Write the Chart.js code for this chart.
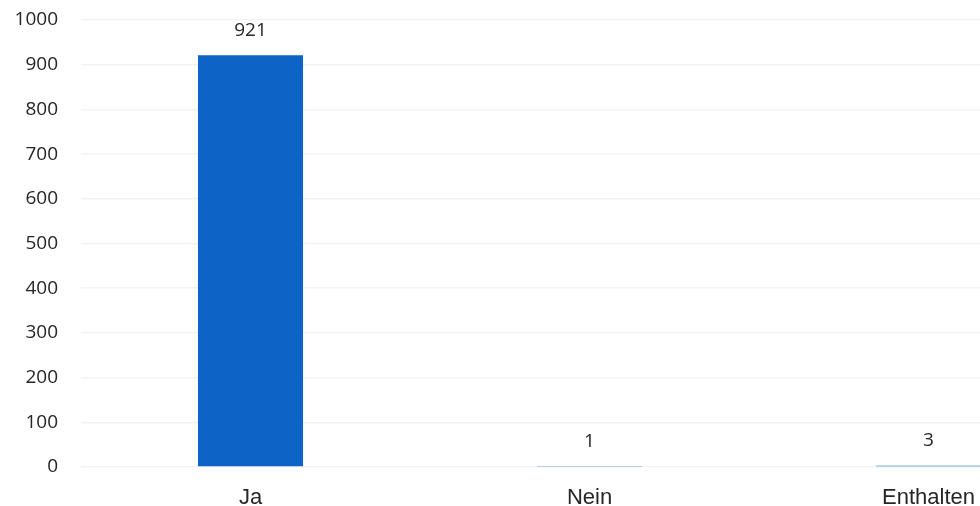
<!DOCTYPE html>
<html>
<head>
<meta charset="utf-8">
<script src="https://cdn.jsdelivr.net/npm/chart.js@4.4.1/dist/chart.umd.min.js"></script>
<style>
  html, body { margin: 0; padding: 0; background: #fff; overflow: hidden; }
  #wrap { width: 1100px; height: 506px; }
</style>
</head>
<body>
<div id="wrap"><canvas id="chart" width="1100" height="506"></canvas></div>
<script>
  const categories = ['Ja', 'Nein', 'Enthalten'];
  const votes = [921, 1, 3];
  const yTicks = [0, 100, 200, 300, 400, 500, 600, 700, 800, 900, 1000];

  // draws the number above each bar
  const valueLabels = {
    id: 'valueLabels',
    afterDatasetsDraw(chart) {
      const ctx = chart.ctx;
      const meta = chart.getDatasetMeta(0);
      ctx.save();
      ctx.font = '19px "Open Sans"';
      ctx.fillStyle = '#262626';
      ctx.textAlign = 'center';
      ctx.textBaseline = 'middle';
      meta.data.forEach(function(bar, i) {
        ctx.fillText(String(votes[i]), bar.x, bar.y - 25);
      });
      ctx.restore();
    }
  };

  new Chart(document.getElementById('chart').getContext('2d'), {
    type: 'bar',
    data: {
      labels: categories,
      datasets: [{
        data: votes,
        backgroundColor: '#0e63c7',
        borderWidth: 0,
        categoryPercentage: 1,
        barPercentage: 0.31
      }]
    },
    options: {
      responsive: false,
      animation: false,
      layout: { padding: { top: 20, right: 2, left: 0, bottom: 0 } },
      plugins: { legend: { display: false }, tooltip: { enabled: false } },
      scales: {
        x: {
          grid: { display: false, drawTicks: false },
          border: { display: false },
          ticks: {
            padding: 18,
            color: '#262626',
            font: { family: '"Liberation Sans"', size: 22 },
            maxRotation: 0,
            autoSkip: false
          },
          afterFit(scale) { scale.height = 39; }
        },
        y: {
          min: 0,
          max: 1000,
          afterBuildTicks(scale) { scale.ticks = yTicks.map(v => ({ value: v })); },
          grid: { color: '#f3f3f3', lineWidth: 1.5, drawTicks: false },
          border: { display: false },
          ticks: {
            padding: 23,
            color: '#262626',
            font: { family: '"Open Sans"', size: 19 },
            callback: function(value) { return String(value); }
          },
          afterFit(scale) {
            scale.width = 81;
            scale.paddingTop = 0;
            scale.paddingBottom = 0;
          }
        }
      }
    },
    plugins: [valueLabels]
  });
</script>
</body>
</html>
